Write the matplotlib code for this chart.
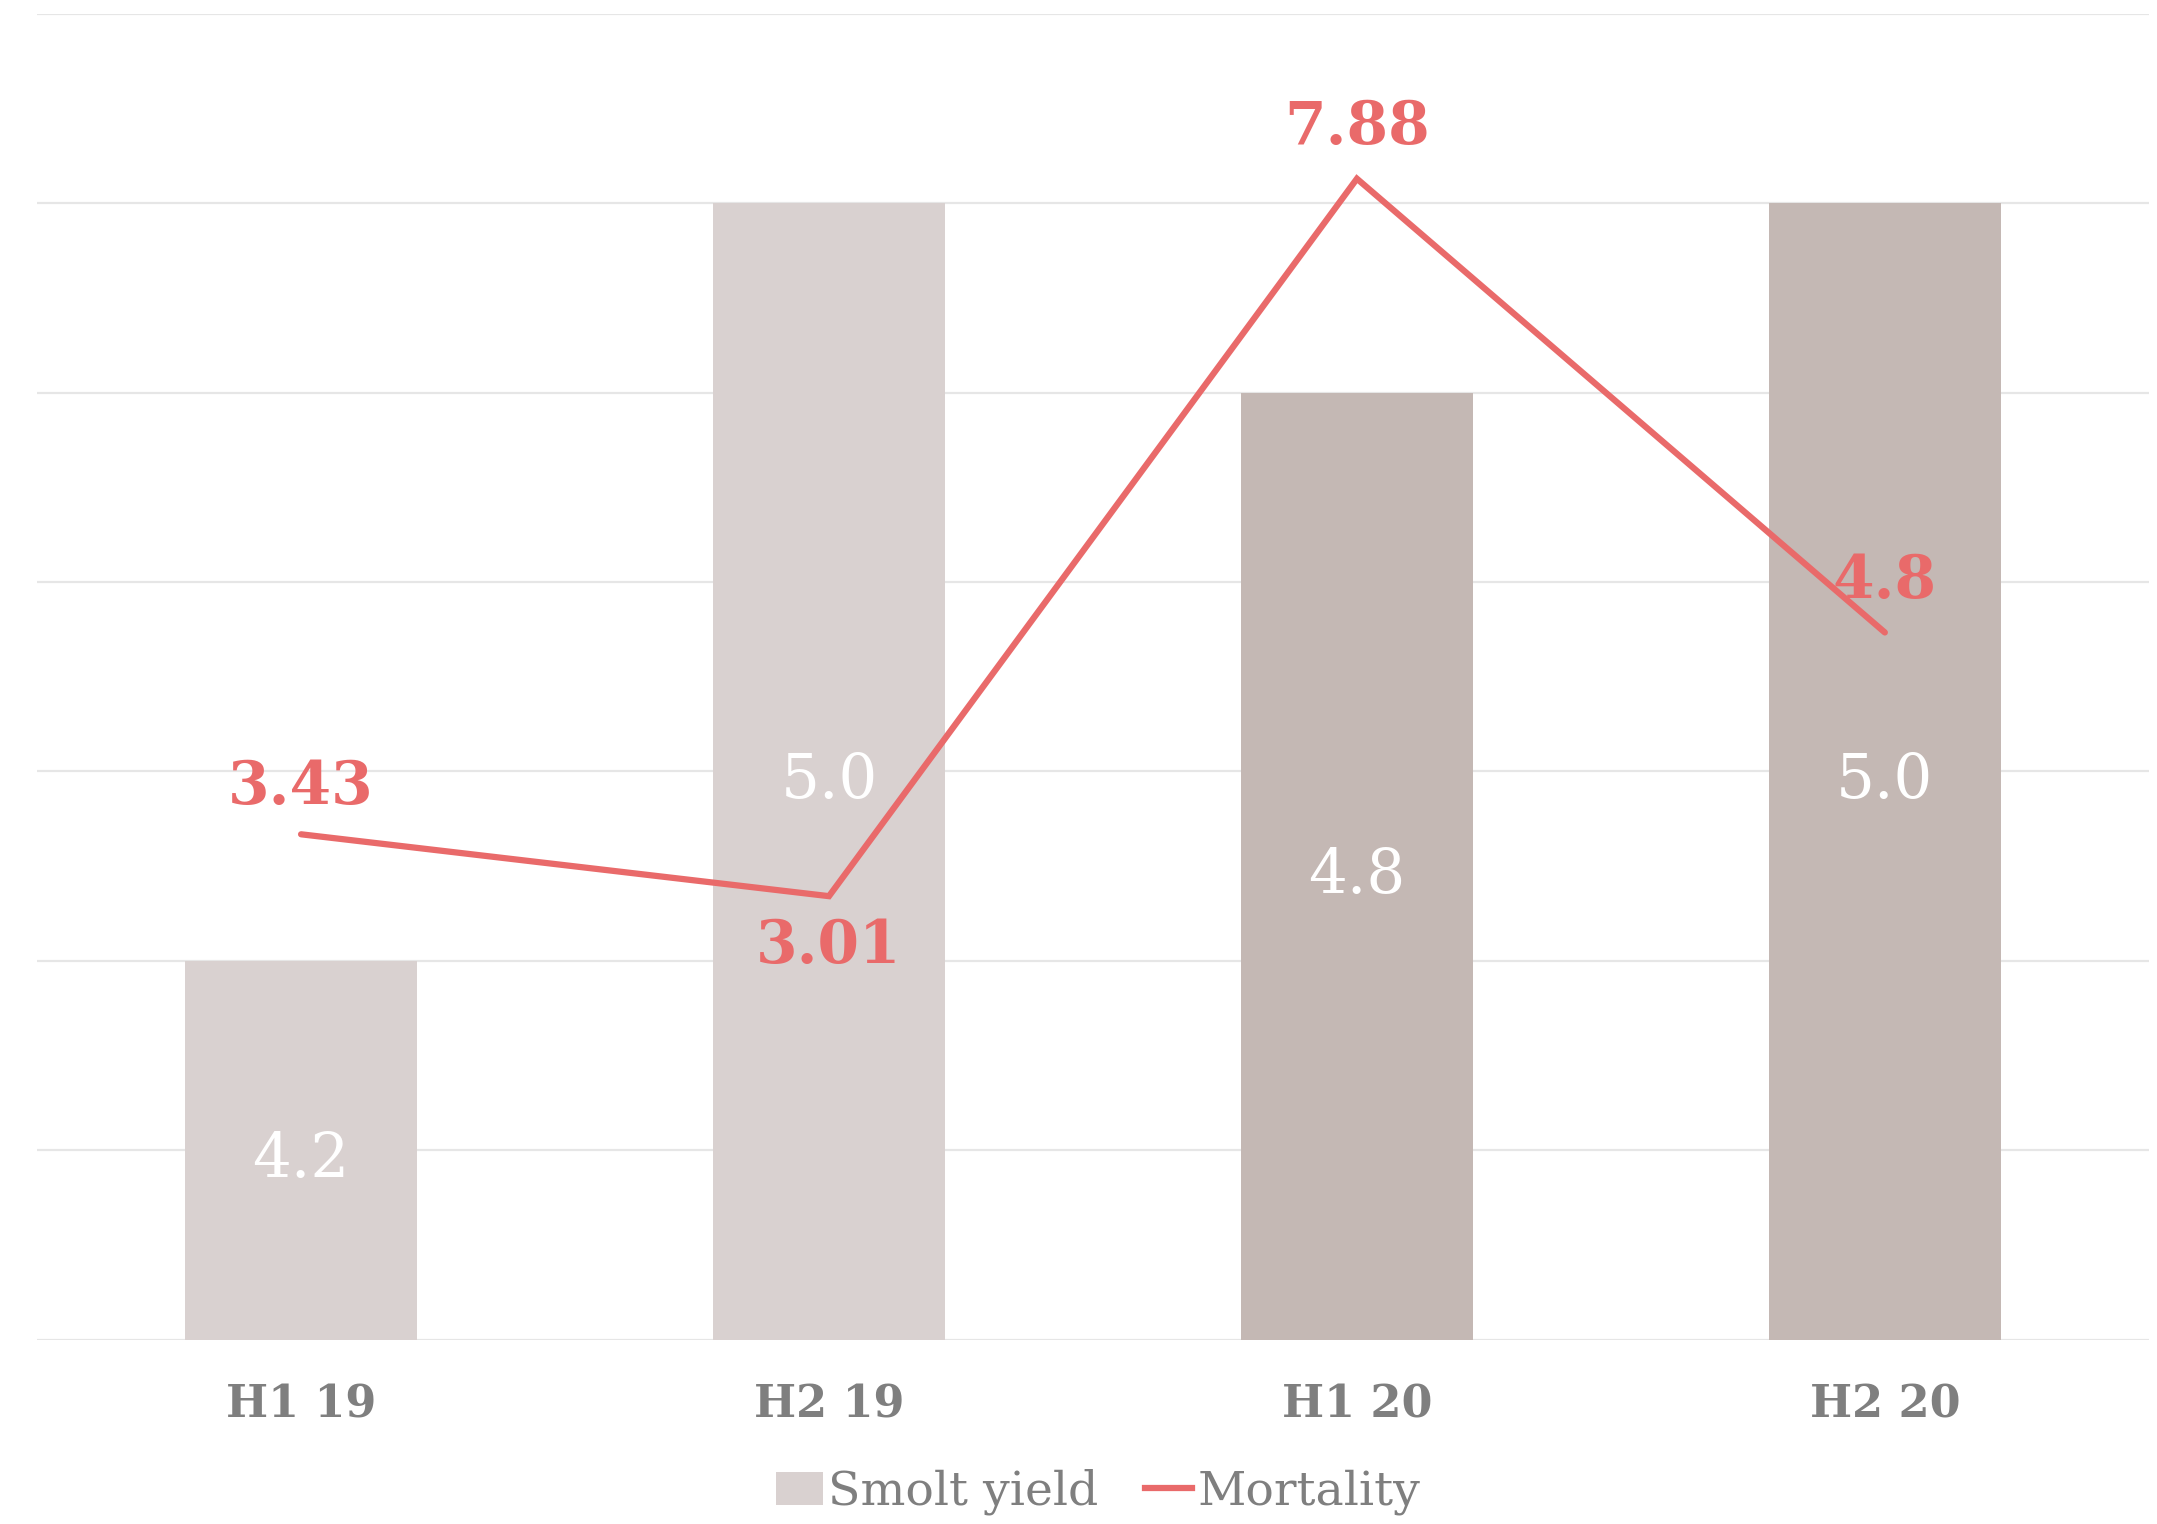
import matplotlib.pyplot as plt
import numpy as np
from matplotlib.lines import Line2D
from matplotlib.patches import Patch

periods = ["H1 19", "H2 19", "H1 20", "H2 20"]
smolt_yield = [4.2, 5.0, 4.8, 5.0]
mortality = [3.43, 3.01, 7.88, 4.8]
mortality_labels = ["3.43", "3.01", "7.88", "4.8"]
bar_colors = ["#D9D1D0", "#D9D1D0", "#C4B8B4", "#C4B8B4"]

LINE_RED = "#E96A6A"
GREY = "#7F7F7F"

plt.rcParams["font.family"] = ["DejaVu Serif", "Liberation Serif"]

fig = plt.figure(figsize=(21.57, 15.24), dpi=100)
ax = fig.add_axes([0.0172, 0.121, 0.979, 0.870])

x = np.arange(len(periods))
ax.bar(x, smolt_yield, width=0.44, color=bar_colors, zorder=2)
ax.set_ylim(3.8, 5.2)
ax.set_xlim(-0.5, len(periods) - 0.5)
ax.set_yticks(np.arange(3.8, 5.21, 0.2))
ax.yaxis.grid(True, color="#E6E6E6", linewidth=1.6, zorder=0)
ax.set_axisbelow(True)
ax.set_xticks(x)
ax.set_xticklabels(periods, fontsize=32, fontweight="bold", color=GREY)
for side in ["top", "right", "left", "bottom"]:
    ax.spines[side].set_visible(False)

for xi, val in zip(x, smolt_yield):
    ax.text(xi, (3.8 + val) / 2 - 0.01, f"{val:.1f}", ha="center", va="center",
            fontsize=44, color="white", zorder=3)

ax2 = ax.twinx()
ax2.set_ylim(0, 9)
ax2.plot(x, mortality, color=LINE_RED, linewidth=4.5, solid_capstyle="round",
         solid_joinstyle="miter", zorder=4)
ax2.axis("off")

# twinx turns the left ticks back on, so hide them afterwards
ax.tick_params(axis="y", left=False, right=False, labelleft=False)
ax.tick_params(axis="x", bottom=False, pad=28)

offsets = [34, -36, 37, 37]
for xi, val, lab, off in zip(x, mortality, mortality_labels, offsets):
    ax2.annotate(lab, (xi, val), xytext=(0, off), textcoords="offset points",
                 ha="center", va="center",
                 fontsize=43, fontweight="bold", color=LINE_RED, zorder=5)

handles = [
    Patch(facecolor="#D9D1D0", edgecolor="none"),
    Line2D([0], [0], color=LINE_RED, linewidth=4.5),
]
fig.legend(handles, ["Smolt yield", "Mortality"], loc="center",
           bbox_to_anchor=(0.509, 0.021), ncol=2, frameon=False,
           fontsize=34, labelcolor=GREY, handlelength=1.0, handletextpad=0.1,
           columnspacing=1.0, handleheight=0.7)

fig.savefig("out.png", dpi=100)
